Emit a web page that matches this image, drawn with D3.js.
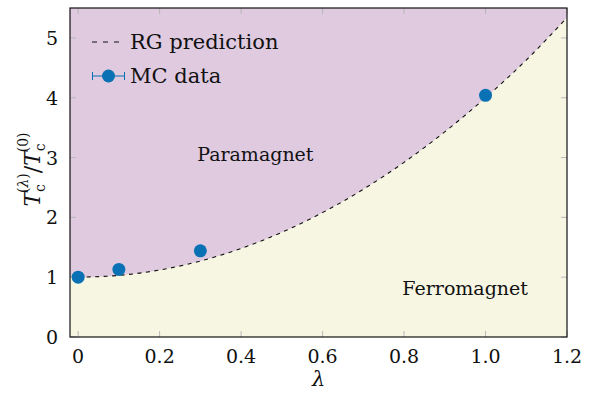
<!DOCTYPE html>
<html>
<head>
<script src="https://cdn.jsdelivr.net/npm/d3@7"></script>
<style>
    body { margin: 0; padding: 0; background: white; }
</style>
</head>
<body>
<div id="chart"></div>
<script>
    // RG prediction curve
    const rgLambda = [0, 0.1, 0.2, 0.3, 0.4, 0.5, 0.6, 0.7, 0.8, 0.9, 1.0, 1.1, 1.2];
    const rgTc = [1.0, 1.03, 1.12, 1.27, 1.48, 1.75, 2.08, 2.47, 2.92, 3.43, 4.0, 4.63, 5.34];

    // MC data points
    const mcLambda = [0, 0.1, 0.3, 1.0];
    const mcTc = [1.0, 1.13, 1.44, 4.04];

    const xTicks = [0, 0.2, 0.4, 0.6, 0.8, 1.0, 1.2];
    const xTickLabels = ["0", "0.2", "0.4", "0.6", "0.8", "1.0", "1.2"];
    const yTicks = [0, 1, 2, 3, 4, 5];

    const W = 590, H = 394;
    const margin = { top: 8, right: 23, bottom: 57, left: 70 };
    const width = W - margin.left - margin.right;
    const height = H - margin.top - margin.bottom;
    const serif = "'DejaVu Serif', serif";

    const svg = d3.select("#chart").append("svg")
        .attr("width", W)
        .attr("height", H)
        .attr("font-family", serif);

    const g = svg.append("g")
        .attr("transform", `translate(${margin.left},${margin.top})`);

    const x = d3.scaleLinear().domain([-0.02, 1.2]).range([0, width]);
    const y = d3.scaleLinear().domain([0, 5.5]).range([height, 0]);

    const rg = rgLambda.map((l, i) => ({ l: l, t: rgTc[i] }));
    const mc = mcLambda.map((l, i) => ({ l: l, t: mcTc[i] }));

    g.append("defs").append("clipPath").attr("id", "clip")
        .append("rect").attr("width", width).attr("height", height);

    const plot = g.append("g").attr("clip-path", "url(#clip)");

    // ferromagnet region (whole plot, then paramagnet drawn above curve)
    plot.append("rect")
        .attr("width", width)
        .attr("height", height)
        .attr("fill", "#f7f6e3");

    const ext = [{ l: -0.02, t: 1.0 }].concat(rg);

    plot.append("path")
        .datum(ext)
        .attr("fill", "#dfcae0")
        .attr("d", d3.area()
            .x(d => x(d.l))
            .y0(0)
            .y1(d => y(d.t))
            .curve(d3.curveMonotoneX));

    // ticks (inside, all four sides)
    const tickCol = "#b8b8b8";
    xTicks.forEach(v => {
        g.append("line").attr("x1", x(v)).attr("x2", x(v))
            .attr("y1", height).attr("y2", height - 6)
            .attr("stroke", tickCol).attr("stroke-width", 1);
        g.append("line").attr("x1", x(v)).attr("x2", x(v))
            .attr("y1", 0).attr("y2", 6)
            .attr("stroke", tickCol).attr("stroke-width", 1);
    });
    yTicks.forEach(v => {
        g.append("line").attr("x1", 0).attr("x2", 6)
            .attr("y1", y(v)).attr("y2", y(v))
            .attr("stroke", tickCol).attr("stroke-width", 1);
        g.append("line").attr("x1", width).attr("x2", width - 6)
            .attr("y1", y(v)).attr("y2", y(v))
            .attr("stroke", tickCol).attr("stroke-width", 1);
    });

    // RG curve
    plot.append("path")
        .datum(rg)
        .attr("fill", "none")
        .attr("stroke", "#111")
        .attr("stroke-width", 1.1)
        .attr("stroke-dasharray", "4,4.5")
        .attr("d", d3.line()
            .x(d => x(d.l))
            .y(d => y(d.t))
            .curve(d3.curveMonotoneX));

    // MC points
    g.selectAll(".mc")
        .data(mc)
        .enter()
        .append("circle")
        .attr("class", "mc")
        .attr("cx", d => x(d.l))
        .attr("cy", d => y(d.t))
        .attr("r", 6.5)
        .attr("fill", "#0a72b4");

    // frame
    g.append("rect")
        .attr("width", width)
        .attr("height", height)
        .attr("fill", "none")
        .attr("stroke", "#111")
        .attr("stroke-width", 1.2);

    // tick labels
    g.selectAll(".xl")
        .data(xTicks)
        .enter()
        .append("text")
        .attr("x", d => x(d))
        .attr("y", height + 26)
        .attr("text-anchor", "middle")
        .attr("font-size", 19)
        .attr("fill", "#111")
        .text((d, i) => xTickLabels[i]);

    g.selectAll(".yl")
        .data(yTicks)
        .enter()
        .append("text")
        .attr("x", -12)
        .attr("y", d => y(d) + 7)
        .attr("text-anchor", "end")
        .attr("font-size", 19)
        .attr("fill", "#111")
        .text(d => d);

    // axis labels
    g.append("text")
        .attr("x", x(0.6) - 4)
        .attr("y", height + 49)
        .attr("text-anchor", "middle")
        .attr("font-size", 21)
        .attr("font-style", "italic")
        .attr("fill", "#111")
        .text("λ");

    const yl = g.append("text")
        .attr("transform", `translate(-30,${height / 2 - 3}) rotate(-90)`)
        .attr("text-anchor", "middle")
        .attr("font-size", 22)
        .attr("fill", "#111");
    yl.append("tspan").attr("font-style", "italic").text("T");
    yl.append("tspan").attr("font-size", 14).attr("dy", 5).text("c");
    yl.append("tspan").attr("font-size", 14).attr("dy", -17).attr("dx", -9).text("(");
    yl.append("tspan").attr("font-size", 14).attr("font-style", "italic").text("λ");
    yl.append("tspan").attr("font-size", 14).text(")");
    yl.append("tspan").attr("dy", 12).text("/");
    yl.append("tspan").attr("font-style", "italic").text("T");
    yl.append("tspan").attr("font-size", 14).attr("dy", 5).text("c");
    yl.append("tspan").attr("font-size", 14).attr("dy", -17).attr("dx", -9).text("(0)");

    // region labels
    g.append("text")
        .attr("x", x(0.435))
        .attr("y", y(3.05) + 6)
        .attr("text-anchor", "middle")
        .attr("font-size", 19)
        .attr("fill", "#111")
        .text("Paramagnet");

    g.append("text")
        .attr("x", x(0.95))
        .attr("y", y(0.8) + 6)
        .attr("text-anchor", "middle")
        .attr("font-size", 19)
        .attr("fill", "#111")
        .text("Ferromagnet");

    // legend
    const lg = g.append("g").attr("transform", "translate(22,34)");
    lg.append("line")
        .attr("x1", 0).attr("x2", 33)
        .attr("y1", 0).attr("y2", 0)
        .attr("stroke", "#111")
        .attr("stroke-dasharray", "5,6");
    lg.append("text").attr("x", 38).attr("y", 7).attr("font-size", 21)
        .attr("fill", "#111").text("RG prediction");

    const lm = lg.append("g").attr("transform", "translate(0,34)");
    lm.append("line").attr("x1", 0).attr("x2", 33).attr("y1", 0).attr("y2", 0)
        .attr("stroke", "#0a72b4").attr("stroke-width", 1);
    lm.append("line").attr("x1", 0.5).attr("x2", 0.5).attr("y1", -4).attr("y2", 4)
        .attr("stroke", "#0a72b4");
    lm.append("line").attr("x1", 32.5).attr("x2", 32.5).attr("y1", -4).attr("y2", 4)
        .attr("stroke", "#0a72b4");
    lm.append("circle").attr("cx", 16.5).attr("cy", 0).attr("r", 6.5).attr("fill", "#0a72b4");
    lm.append("text").attr("x", 38).attr("y", 7).attr("font-size", 21)
        .attr("fill", "#111").text("MC data");
</script>
</body>
</html>
